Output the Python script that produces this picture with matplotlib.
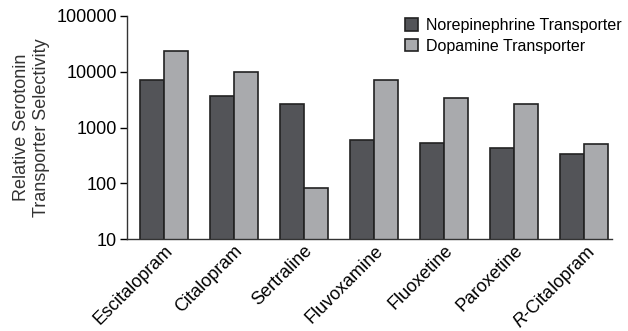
import numpy as np
import matplotlib.pyplot as plt

plt.rcParams['font.family'] = ['Liberation Sans', 'DejaVu Sans']
plt.rcParams['mathtext.fontset'] = 'custom'
plt.rcParams['mathtext.it'] = 'Liberation Sans:italic'

drugs = ['Escitalopram', 'Citalopram', 'Sertraline', 'Fluvoxamine',
         'Fluoxetine', 'Paroxetine', 'R-Citalopram']
net_selectivity = [7000, 3750, 2700, 600, 525, 435, 340]
dat_selectivity = [24000, 10000, 84, 7100, 3400, 2650, 510]

dark = '#535458'
light = '#a9aaad'

fig = plt.figure(figsize=(6.28, 3.31), dpi=100)
ax = fig.add_axes([0.202, 0.277, 0.773, 0.675])

x = np.arange(len(drugs))
w = 0.343
ax.bar(x - w / 2, net_selectivity, width=w, color=dark, edgecolor='#222222',
       linewidth=1.2, label='Norepinephrine Transporter')
ax.bar(x + w / 2, dat_selectivity, width=w, color=light, edgecolor='#222222',
       linewidth=1.2, label='Dopamine Transporter')

ax.set_yscale('log')
ax.set_ylim(10, 100000)
ax.set_xlim(-0.53, 6.4)
ax.set_yticks([10, 100, 1000, 10000, 100000])
ax.set_yticklabels(['10', '100', '1000', '10000', '100000'])
ax.yaxis.set_minor_locator(plt.NullLocator())
ax.tick_params(axis='y', length=5, width=1, labelsize=13, pad=2)
ax.tick_params(axis='x', length=0, labelsize=13, pad=2)

ax.set_xticks(x)
# italic R prefix on the enantiomer name
ax.set_xticklabels([r'$R$-Citalopram' if d == 'R-Citalopram' else d
                    for d in drugs],
                   rotation=45, ha='right', rotation_mode='anchor')

for s in ['top', 'right']:
    ax.spines[s].set_visible(False)
for s in ['left', 'bottom']:
    ax.spines[s].set_color('#333333')
    ax.spines[s].set_linewidth(1.0)

ax.set_ylabel('Relative Serotonin\nTransporter Selectivity', fontsize=13,
              color='#333333', labelpad=5)

fig.legend(loc='upper right', bbox_to_anchor=(1.0, 0.965), frameon=False,
           fontsize=11.5, handlelength=0.8, handleheight=0.8,
           handletextpad=0.5, labelspacing=0.35, borderaxespad=0)

fig.savefig('out.png', dpi=100)
